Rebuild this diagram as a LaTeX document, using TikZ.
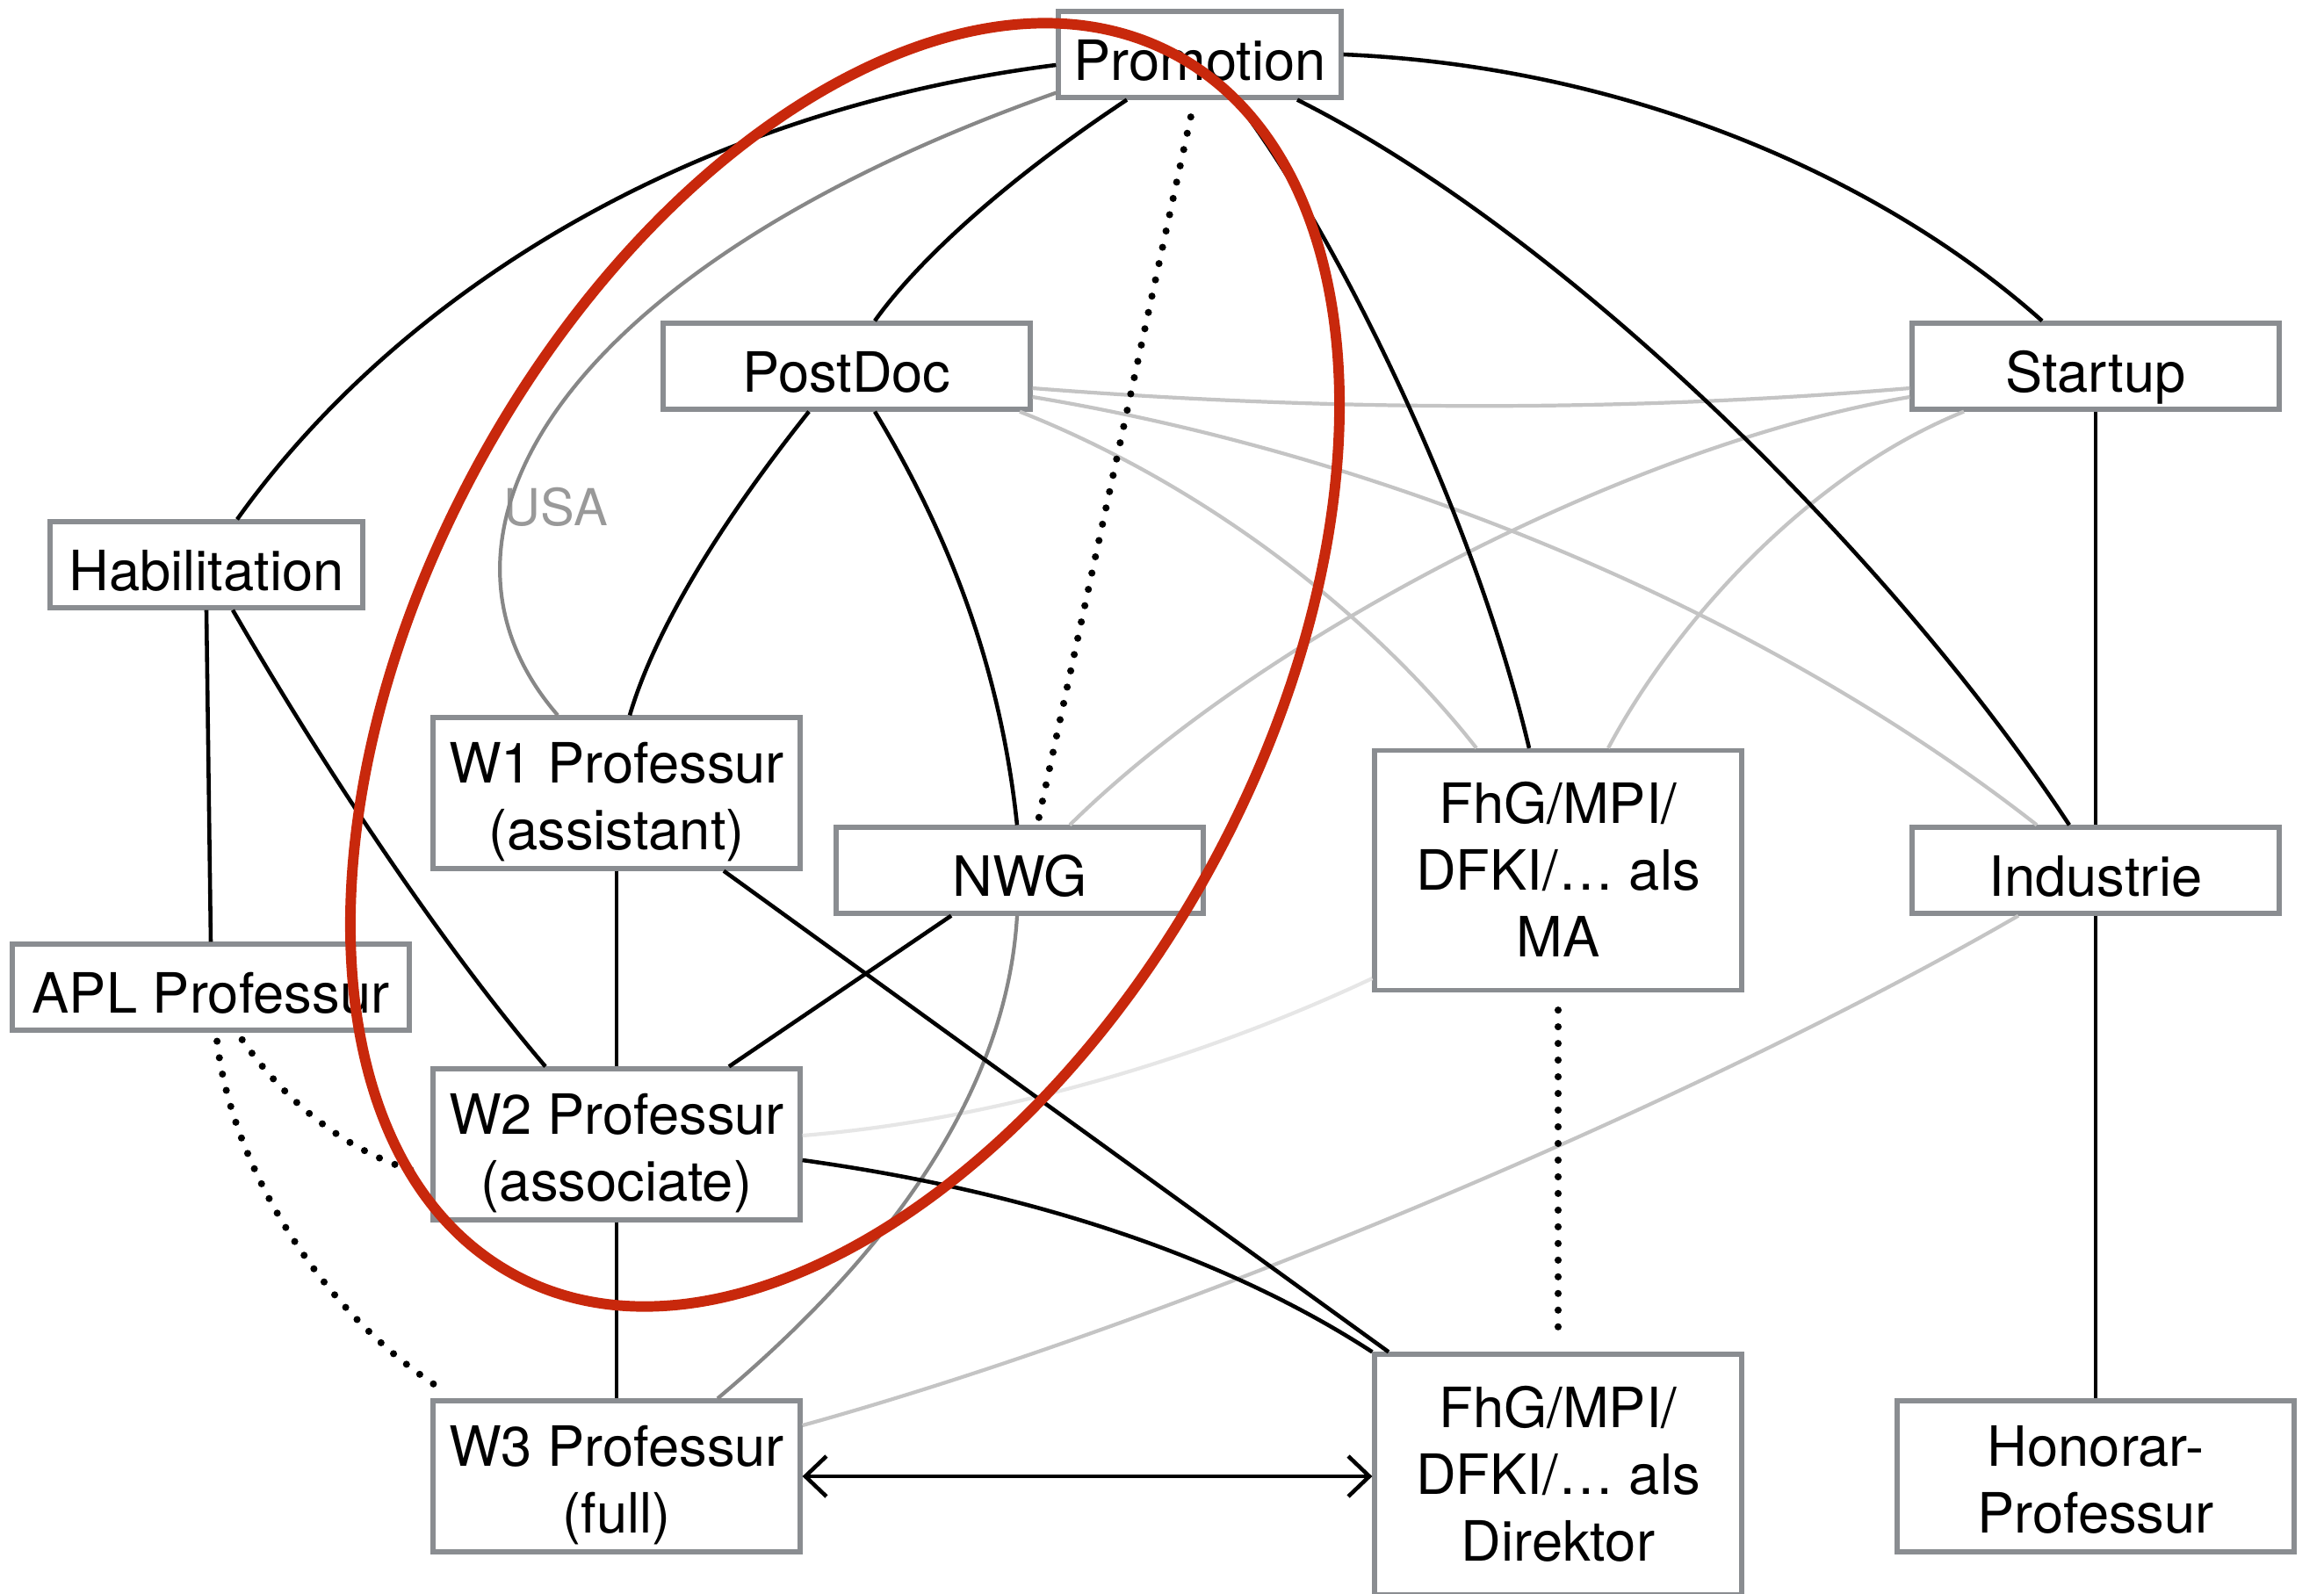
\documentclass[tikz,border=0pt]{standalone}
\usepackage{fontspec}
\setmainfont{TeX Gyre Heros}
\usepackage{tikz}
\usetikzlibrary{arrows.meta,positioning}
\definecolor{boxgray}{RGB}{138,141,145}
\definecolor{midgray}{RGB}{135,135,135}
\definecolor{palegray}{RGB}{196,196,196}
\definecolor{ghostgray}{RGB}{230,230,230}
\definecolor{markred}{RGB}{200,40,12}

\begin{document}
\begin{tikzpicture}[
  stage/.style={draw=boxgray,line width=1.5pt,fill=white,align=center,minimum width=41.8mm,minimum height=9.8mm,inner sep=0pt,text height=16.5pt,text depth=0pt,font=\fontsize{18}{21.6}\selectfont},
  tall/.style={stage,minimum height=17.2mm,text height=36.8pt},
  taller/.style={stage,text height=56.2pt},
  link/.style={line width=1.3pt},
  weak/.style={line width=1.2pt,midgray},
  faint/.style={line width=1.2pt,palegray},
  maybe/.style={line width=2.3pt,dash pattern=on 0pt off 5.4pt,line cap=round},
  twoway/.style={{Straight Barb[length=2.4mm,width=4.6mm]}-{Straight Barb[length=2.4mm,width=4.6mm]},line width=1.3pt}
]
\useasboundingbox (0,0) rectangle (26.46,-18.15);
\node[stage,minimum width=32.2mm] (promo) at (13.66,-0.62) {Promotion};
\node[stage] (postdoc) at (9.64,-4.17) {PostDoc};
\node[stage] (startup) at (23.86,-4.17) {Startup};
\node[stage,minimum width=35.6mm] (habil) at (2.35,-6.43) {Habilitation};
\node[tall] (wone) at (7.02,-9.03) {W1 Professur\\(assistant)};
\node[stage] (nwg) at (11.61,-9.91) {NWG};
\node[taller,minimum height=27.3mm] (fhgma) at (17.74,-9.91) {FhG/MPI/\\DFKI/… als\\MA};
\node[stage] (industrie) at (23.86,-9.91) {Industrie};
\node[stage,minimum width=45.2mm] (apl) at (2.40,-11.24) {APL Professur};
\node[tall] (wtwo) at (7.02,-13.03) {W2 Professur\\(associate)};
\node[tall] (wthree) at (7.02,-16.81) {W3 Professur\\(full)};
\node[taller,minimum height=27.4mm] (fhgdir) at (17.74,-16.79) {FhG/MPI/\\DFKI/… als\\Direktor};
\node[tall,minimum width=45.2mm] (honorar) at (23.86,-16.81) {Honorar-\\Professur};
\node[text=midgray!85,font=\fontsize{16.5}{19}\selectfont] (usa) at (6.33,-5.77) {USA};
% faint links
\draw[faint] ([yshift=-0.25cm]postdoc.east) .. controls (15.19,-4.69) and (18.56,-4.69) .. ([yshift=-0.25cm]startup.west);
\draw[faint] ([yshift=-0.35cm]postdoc.east) .. controls (16.03,-5.23) and (20.25,-7.09) .. ([xshift=-0.67cm]industrie.north);
\draw[faint] ([xshift=1.97cm]postdoc.south) .. controls (13.84,-5.57) and (15.69,-7.09) .. ([xshift=-0.93cm]fhgma.north);
\draw[faint] ([yshift=-0.35cm]startup.west) .. controls (18.56,-5.06) and (14.34,-7.26) .. ([xshift=0.57cm]nwg.north);
\draw[faint] ([xshift=-1.50cm]startup.south) .. controls (20.59,-5.40) and (19.07,-7.09) .. ([xshift=0.57cm]fhgma.north);
\draw[faint] ([xshift=-0.88cm]industrie.south) .. controls (19.41,-12.49) and (13.5,-15.02) .. ([yshift=0.58cm]wthree.east);
\draw[line width=1.2pt,ghostgray] ([yshift=-1.23cm]fhgma.west) .. controls (13.84,-11.98) and (11.48,-12.74) .. ([yshift=0.10cm]wtwo.east);
% gray links
\draw[weak] ([yshift=0.08cm]promo.south west) .. controls (6.41,-3.04) and (4.56,-6.08) .. ([xshift=-0.67cm]wone.north);
\draw[weak] ([xshift=-0.03cm]nwg.south) .. controls (11.48,-12.15) and (10.46,-14.0) .. ([xshift=1.15cm]wthree.north);
% black links
\draw[link] ([yshift=-0.12cm]promo.west) .. controls (7.59,-1.30) and (4.39,-3.54) .. ([xshift=0.35cm]habil.north);
\draw[link] ([xshift=-0.83cm]promo.south) .. controls (11.48,-2.03) and (10.46,-2.95) .. ([xshift=0.32cm]postdoc.north);
\draw[link] ([xshift=0.40cm]promo.south) .. controls (15.02,-2.36) and (16.71,-5.57) .. ([xshift=-0.33cm]fhgma.north);
\draw[link] (promo.east) .. controls (18.56,-0.76) and (21.43,-2.03) .. ([xshift=-0.61cm]startup.north);
\draw[link] ([xshift=1.11cm]promo.south) .. controls (17.89,-2.70) and (21.6,-6.41) .. ([xshift=-0.30cm]industrie.north);
\draw[link] (habil.south) -- (apl.north);
\draw[link] ([xshift=0.30cm]habil.south) .. controls (3.71,-8.78) and (5.06,-10.8) .. ([xshift=-0.81cm]wtwo.north);
\draw[link] ([xshift=-0.43cm]postdoc.south) .. controls (8.10,-6.08) and (7.43,-7.26) .. ([xshift=0.15cm]wone.north);
\draw[link] ([xshift=0.32cm]postdoc.south) .. controls (10.8,-6.08) and (11.39,-7.59) .. ([xshift=-0.03cm]nwg.north);
\draw[link] (wone) -- (wtwo);
\draw[link] ([xshift=1.22cm]wone.south) -- ([xshift=-1.93cm]fhgdir.north);
\draw[link] ([xshift=-0.78cm]nwg.south) -- ([xshift=1.28cm]wtwo.north);
\draw[link] ([yshift=-0.18cm]wtwo.east) .. controls (11.81,-13.58) and (14.0,-14.34) .. (fhgdir.north west);
\draw[link] (wtwo) -- (wthree);
\draw[link] (startup) -- (industrie);
\draw[link] (industrie) -- (honorar);
\draw[twoway] (wthree.east) -- (wthree.east -| fhgdir.west);
% dotted links
\draw[maybe,shorten <=2mm] ([xshift=-0.06cm]promo.south) -- ([xshift=0.20cm]nwg.north);
\draw[maybe,shorten <=1mm] ([xshift=0.06cm]apl.south) .. controls (2.62,-13.16) and (3.54,-14.85) .. ([shift={(0.10cm,0.12cm)}]wthree.north west);
\draw[maybe,shorten <=1mm] ([xshift=0.30cm]apl.south) .. controls (3.21,-12.49) and (3.88,-13.08) .. ([shift={(-0.2cm,-0.3cm)}]wtwo.west);
\draw[maybe,shorten <=2mm,shorten >=1mm] (fhgma.south) -- (fhgdir.north);
% red mark
\draw[markred,line width=3.4pt,rotate around={61.5:(9.62,-7.57)}] (9.62,-7.57) ellipse [x radius=7.90cm, y radius=4.76cm];
\end{tikzpicture}
\end{document}
